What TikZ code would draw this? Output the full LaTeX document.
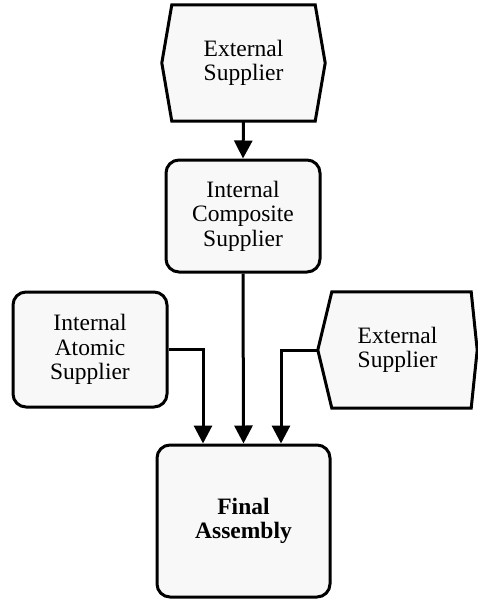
\documentclass[tikz,border=0pt]{standalone}
\usepackage{fontspec}
\setmainfont{Liberation Serif}
\usetikzlibrary{arrows.meta,backgrounds}
\definecolor{boxfill}{HTML}{F8F8F8}

\begin{document}
\begin{tikzpicture}[x=1pt,y=-1pt,
  label text/.style={align=center, font=\fontsize{23.5}{24.5}\selectfont, inner sep=0pt},
  roundbox/.style={label text, draw, line width=3pt, rounded corners=13pt, fill=boxfill},
  hexholder/.style={label text},
  hexline/.style={draw, line width=3pt, fill=boxfill, line join=miter},
  flow/.style={line width=3pt, -{Triangle[length=18pt,width=18pt]}}]
\useasboundingbox (0,0) rectangle (478,600);

% suppliers and assembly
\node[hexholder, minimum width=163pt, minimum height=116pt] (ext1) at (243.5,63) {External\\Supplier};
\node[roundbox, minimum width=154pt, minimum height=112pt] (comp) at (243,216) {Internal\\Composite\\Supplier};
\node[roundbox, minimum width=154pt, minimum height=115pt] (atomic) at (90,349.5) {Internal\\Atomic\\Supplier};
\node[hexholder, minimum width=159pt, minimum height=116pt] (ext2) at (397.5,350) {External\\Supplier};
\node[roundbox, minimum width=173pt, minimum height=152pt] (final) at (243.5,521) {\textbf{Final}\\\textbf{Assembly}};

% hexagonal outlines of the external suppliers
\begin{scope}[on background layer]
  \draw[hexline] ([xshift=10pt]ext1.north west) -- ([xshift=-10pt]ext1.north east) -- (ext1.east)
    -- ([xshift=-10pt]ext1.south east) -- ([xshift=10pt]ext1.south west) -- (ext1.west) -- cycle;
  \draw[hexline] ([xshift=14pt]ext2.north west) -- ([xshift=-6pt]ext2.north east) -- (ext2.east)
    -- ([xshift=-6pt]ext2.south east) -- ([xshift=14pt]ext2.south west) -- (ext2.west) -- cycle;
\end{scope}

% material flow
\draw[flow] (ext1.south) -- (comp.north);
\draw[flow] (comp.south) -- (final.north);
\draw[flow] (atomic.east) -| ([xshift=-40.5pt]final.north);
\draw[flow] (ext2.west) -| ([xshift=37.5pt]final.north);
\end{tikzpicture}
\end{document}
